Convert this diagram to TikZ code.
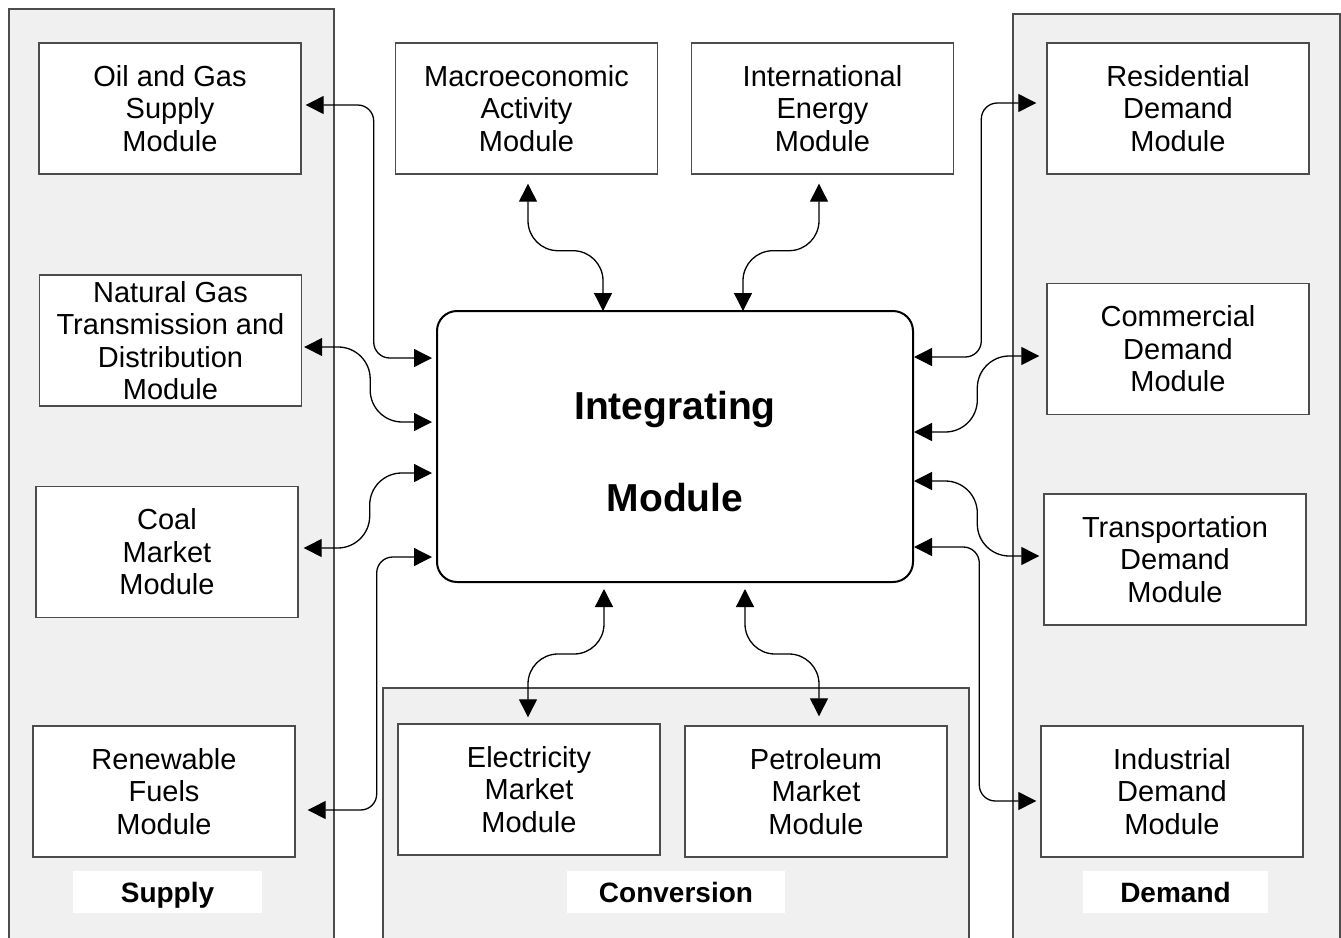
\documentclass[tikz,border=0pt]{standalone}
\usepackage{fontspec}
\setmainfont{Liberation Sans}
\usetikzlibrary{arrows.meta,calc}
\definecolor{panelgray}{gray}{0.94}
\definecolor{edgegray}{gray}{0.3}

\begin{document}
\begin{tikzpicture}[
  x=0.5pt, y=-0.5pt,
  every node/.style={font=\fontsize{14.5}{16.25}\selectfont, align=center},
  module/.style={draw=edgegray, line width=0.7pt, fill=white, minimum width=131pt, minimum height=65.5pt, inner sep=0pt},
  paneltag/.style={fill=white, minimum width=#1, minimum height=21pt, inner sep=0pt, text height=10pt, text depth=0pt, font=\bfseries\fontsize{14}{16}\selectfont},
  panel/.style={draw=edgegray, line width=0.7pt, fill=panelgray},
  arrowlink/.style={line width=0.65pt, {Triangle[length=9pt,width=9pt]}-{Triangle[length=9pt,width=9pt]}}
]
\useasboundingbox (0,0) rectangle (1341,938);
\clip (0,0) rectangle (1341,938);

% panels
\draw[panel] (9,9) rectangle (334,950);
\draw[panel] (1013,14) rectangle (1340,950);
\draw[panel] (383,688) rectangle (969,950);

\node[paneltag=94.5pt] (supplytag) at (167.5,892) {Supply};
\node[paneltag=109pt] (convtag) at (676,892) {Conversion};
\node[paneltag=92.5pt] (demandtag) at (1175.5,892) {Demand};

% supply
\node[module] (oil) at (170,108.5) {Oil and Gas\\Supply\\Module};
\node[module] (ng) at (170.5,340.5) {Natural Gas\\Transmission and\\Distribution\\Module};
\node[module] (coal) at (167,552) {Coal\\Market\\Module};
\node[module] (renew) at (164,791.5) {Renewable\\Fuels\\Module};

% top
\node[module] (macro) at (526.5,108.5) {Macroeconomic\\Activity\\Module};
\node[module] (intl) at (822.5,108.5) {International\\Energy\\Module};

% demand
\node[module] (res) at (1178,108.5) {Residential\\Demand\\Module};
\node[module] (com) at (1178,349) {Commercial\\Demand\\Module};
\node[module] (trans) at (1175,559.5) {Transportation\\Demand\\Module};
\node[module] (ind) at (1172,791.5) {Industrial\\Demand\\Module};

% conversion
\node[module] (elec) at (529,789.5) {Electricity\\Market\\Module};
\node[module] (petro) at (816,791.5) {Petroleum\\Market\\Module};

\node[draw, line width=1pt, rounded corners=10pt, fill=white, minimum width=238pt, minimum height=135.5pt,
  font=\bfseries\fontsize{19.5}{46}\selectfont] (integ) at (675,446.5) {\rule{0pt}{19pt}Integrating\\Module};

% links
\draw[arrowlink, rounded corners=8pt] ($(oil.east)+(4,-3.5)$) -- ++(68,0) |- ($(integ.west)+(-4,-88.5)$);
\draw[arrowlink, rounded corners=16pt] ($(ng.east)+(2,6.5)$) -- ++(66,0) |- ($(integ.west)+(-4,-24.5)$);
\draw[arrowlink, rounded corners=16pt] ($(coal.east)+(5,-4)$) -- ++(66,0) |- ($(integ.west)+(-4,26.5)$);
\draw[arrowlink, rounded corners=8pt] ($(renew.east)+(12,18.5)$) -- ++(69,0) |- ($(integ.west)+(-4,110.5)$);

\draw[arrowlink, rounded corners=8pt] ($(res.west)+(-10,-5.5)$) -- ++(-55,0) |- ($(integ.east)+(0,-89.5)$);
\draw[arrowlink, rounded corners=16pt] ($(com.west)+(-7,7)$) -- ++(-62,0) |- ($(integ.east)+(0,-14.5)$);
\draw[arrowlink, rounded corners=16pt] ($(trans.west)+(-4,-3.5)$) -- ++(-62,0) |- ($(integ.east)+(0,34.5)$);
\draw[arrowlink, rounded corners=8pt] ($(ind.west)+(-4,9.5)$) -- ++(-57,0) |- ($(integ.east)+(0,100.5)$);

\draw[arrowlink, rounded corners=15pt] ($(macro.south)+(1.5,9)$) -- ++(0,67) -| ($(integ.north)+(-72,1)$);
\draw[arrowlink, rounded corners=15pt] ($(intl.south)+(-3.5,9)$) -- ++(0,67) -| ($(integ.north)+(68,1)$);
\draw[arrowlink, rounded corners=15pt] ($(integ.south)+(-71,6)$) -- ++(0,65) -| ($(elec.north)+(-1,-6)$);
\draw[arrowlink, rounded corners=15pt] ($(integ.south)+(70,6)$) -- ++(0,65) -| ($(petro.north)+(3,-9)$);
\end{tikzpicture}
\end{document}
